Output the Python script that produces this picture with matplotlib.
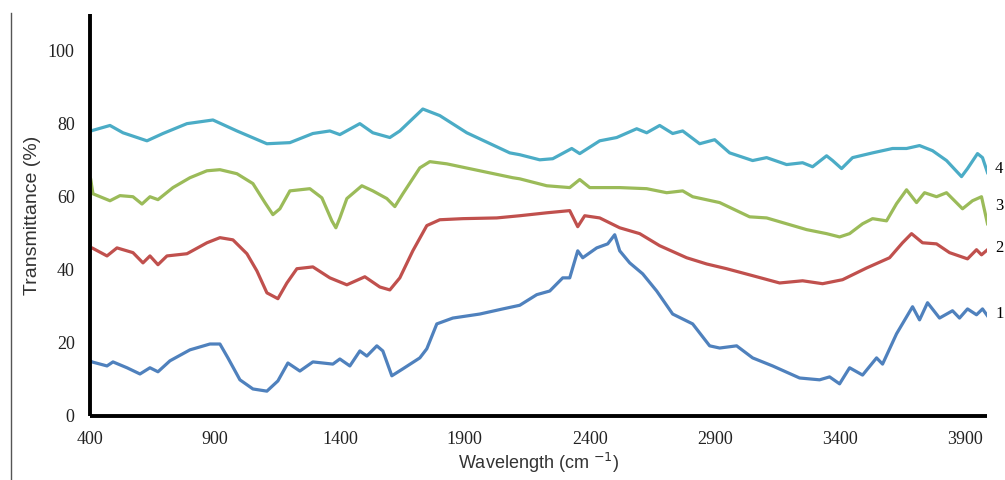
import matplotlib
matplotlib.use('Agg')
import matplotlib.pyplot as plt
from matplotlib.lines import Line2D
from matplotlib.transforms import blended_transform_factory

# sample 1 (blue)
x1 = [400, 408, 468, 492, 548, 600, 640, 672, 720, 800, 880, 920, 952, 1000, 1052, 1108, 1152, 1192,
      1240, 1292, 1372, 1400, 1440, 1480, 1508, 1548, 1572, 1608, 1652, 1720, 1748, 1788, 1852, 1960,
      2052, 2120, 2188, 2240, 2292, 2320, 2352, 2372, 2428, 2472, 2500, 2520, 2560, 2612, 2668, 2732,
      2812, 2880, 2920, 2988, 3052, 3132, 3240, 3320, 3360, 3400, 3440, 3492, 3548, 3572, 3628, 3692,
      3720, 3752, 3800, 3852, 3880, 3912, 3948, 3972, 3992]
y1 = [15.2, 14.8, 13.7, 14.8, 13.2, 11.5, 13.2, 12.1, 15.1, 18.1, 19.7, 19.7, 15.9, 9.9, 7.4, 6.8, 9.6, 14.5,
      12.3, 14.8, 14.2, 15.6, 13.7, 17.8, 16.4, 19.2, 17.8, 11.0, 12.9, 15.9, 18.4, 25.2, 26.8, 27.9,
      29.3, 30.3, 33.2, 34.2, 37.8, 37.8, 45.2, 43.3, 46.0, 47.1, 49.6, 45.2, 41.9, 38.9, 34.2, 27.9,
      25.2, 19.2, 18.6, 19.2, 15.9, 13.7, 10.4, 9.9, 10.7, 8.8, 13.2, 11.2, 15.9, 14.2, 22.5, 29.9,
      26.3, 31.0, 26.8, 28.8, 26.8, 29.3, 27.7, 29.3, 27.4]

# sample 2 (red)
x2 = [400, 408, 468, 508, 572, 612, 640, 672, 708, 788, 868, 920, 972, 1028, 1068, 1108, 1152, 1188,
      1228, 1292, 1360, 1428, 1500, 1560, 1600, 1640, 1692, 1748, 1800, 1892, 2028, 2120, 2228, 2320,
      2352, 2380, 2440, 2520, 2600, 2680, 2788, 2868, 2948, 3052, 3160, 3252, 3332, 3412, 3508, 3600,
      3652, 3688, 3732, 3788, 3840, 3912, 3948, 3968, 3992]
y2 = [46.0, 46.0, 43.8, 46.0, 44.7, 41.9, 43.8, 41.4, 43.8, 44.4, 47.4, 48.8, 48.2, 44.4, 39.7, 33.7, 32.1, 36.4,
      40.3, 40.8, 37.8, 35.9, 38.1, 35.3, 34.5, 37.8, 45.2, 52.1, 53.7, 54.0, 54.2, 54.8, 55.6, 56.2,
      51.8, 54.8, 54.2, 51.5, 49.9, 46.6, 43.3, 41.6, 40.3, 38.4, 36.4, 37.0, 36.2, 37.3, 40.5, 43.3,
      47.4, 49.9, 47.4, 47.1, 44.7, 43.0, 45.5, 44.1, 45.5]

# sample 3 (green)
x3 = [400, 402, 412, 480, 520, 572, 608, 640, 672, 732, 800, 868, 920, 988, 1052, 1100, 1132, 1160,
      1200, 1280, 1328, 1368, 1384, 1400, 1428, 1488, 1532, 1588, 1620, 1652, 1720, 1760, 1828, 1960,
      2092, 2120, 2228, 2320, 2360, 2400, 2520, 2628, 2708, 2772, 2812, 2920, 3040, 3108, 3188, 3268,
      3348, 3400, 3440, 3492, 3532, 3588, 3628, 3668, 3708, 3740, 3788, 3828, 3892, 3932, 3968, 3992]
y3 = [43.0, 65.0, 60.8, 58.9, 60.3, 60.0, 58.0, 60.0, 59.2, 62.5, 65.2, 67.1, 67.4, 66.3, 63.6, 58.4, 55.1, 56.7,
      61.6, 62.2, 59.7, 53.4, 51.5, 54.2, 59.5, 63.0, 61.6, 59.5, 57.3, 60.8, 67.9, 69.6, 69.0, 67.1,
      65.2, 64.9, 63.0, 62.5, 64.7, 62.5, 62.5, 62.2, 61.1, 61.6, 60.0, 58.4, 54.5, 54.2, 52.6, 51.0,
      49.9, 49.0, 49.9, 52.6, 54.0, 53.4, 58.1, 61.9, 58.4, 61.1, 60.0, 61.1, 56.7, 58.9, 60.0, 52.6]

# sample 4 (cyan)
x4 = [400, 408, 480, 532, 628, 692, 788, 892, 988, 1108, 1200, 1292, 1360, 1400, 1480, 1532, 1600, 1640,
      1732, 1800, 1908, 2080, 2120, 2200, 2252, 2328, 2360, 2440, 2508, 2588, 2628, 2680, 2732, 2772,
      2840, 2900, 2960, 3052, 3108, 3188, 3252, 3292, 3348, 3372, 3408, 3452, 3532, 3612, 3668, 3720,
      3772, 3828, 3888, 3912, 3952, 3972, 3992]
y4 = [77.8, 78.1, 79.5, 77.5, 75.3, 77.3, 80.0, 81.0, 78.0, 74.5, 74.8, 77.3, 78.0, 77.0, 80.0, 77.5, 76.2, 78.0,
      84.0, 82.2, 77.5, 72.0, 71.5, 70.1, 70.4, 73.2, 71.8, 75.3, 76.2, 78.6, 77.5, 79.5, 77.3, 78.0,
      74.5, 75.6, 72.0, 69.9, 70.7, 68.8, 69.3, 68.2, 71.2, 69.9, 67.7, 70.7, 72.0, 73.2, 73.2, 74.0,
      72.6, 69.9, 65.5, 67.7, 71.8, 70.7, 66.6]

series = [(x1, y1, '#4F81BD'), (x2, y2, '#C0504D'), (x3, y3, '#9BBB59'), (x4, y4, '#4BACC6')]
end_labels = ['1', '2', '3', '4']
label_y = [28, 46, 57.5, 67.7]

xticks = [400, 900, 1400, 1900, 2400, 2900, 3400, 3900]
yticks = [0, 20, 40, 60, 80, 100]

fig = plt.figure(figsize=(10.05, 4.8), dpi=100)
ax = fig.add_axes([90 / 1005, 1 - 416 / 480, 897 / 1005, 402 / 480])

for x, y, c in series:
    ax.plot(x, y, color=c, lw=2.3, solid_joinstyle='round')

ax.set_xlim(400, 3990)
ax.set_ylim(0, 110)
ax.set_xticks(xticks)
ax.set_yticks(yticks)
ax.tick_params(length=0, labelsize=13)
ax.tick_params(axis='x', pad=11)
ax.tick_params(axis='y', pad=11)
for lab in ax.get_xticklabels() + ax.get_yticklabels():
    lab.set_family('Liberation Serif')
    lab.set_color('#222222')

for s in ['top', 'right']:
    ax.spines[s].set_visible(False)
for s in ['left', 'bottom']:
    ax.spines[s].set_linewidth(2.8)
    ax.spines[s].set_color('black')
    ax.spines[s].set_capstyle('butt')

ax.set_xlabel('Wavelength (cm $^{-1}$)', family='Liberation Sans', fontsize=13, color='#333333', labelpad=2)
ax.set_ylabel('Transmittance (%)', family='Liberation Sans', fontsize=14, color='#333333', labelpad=5)

# curve numbers at the right edge
tr = blended_transform_factory(fig.transFigure, ax.transData)
for lab, v in zip(end_labels, label_y):
    ax.text(995 / 1005, v, lab, transform=tr, fontsize=12,
            family='Liberation Serif', va='center', ha='left', clip_on=False)

fig.add_artist(Line2D([11 / 1005, 11 / 1005], [0, 1 - 13 / 480], transform=fig.transFigure,
                      color='#555555', lw=1))

fig.savefig('out.png', dpi=100)
